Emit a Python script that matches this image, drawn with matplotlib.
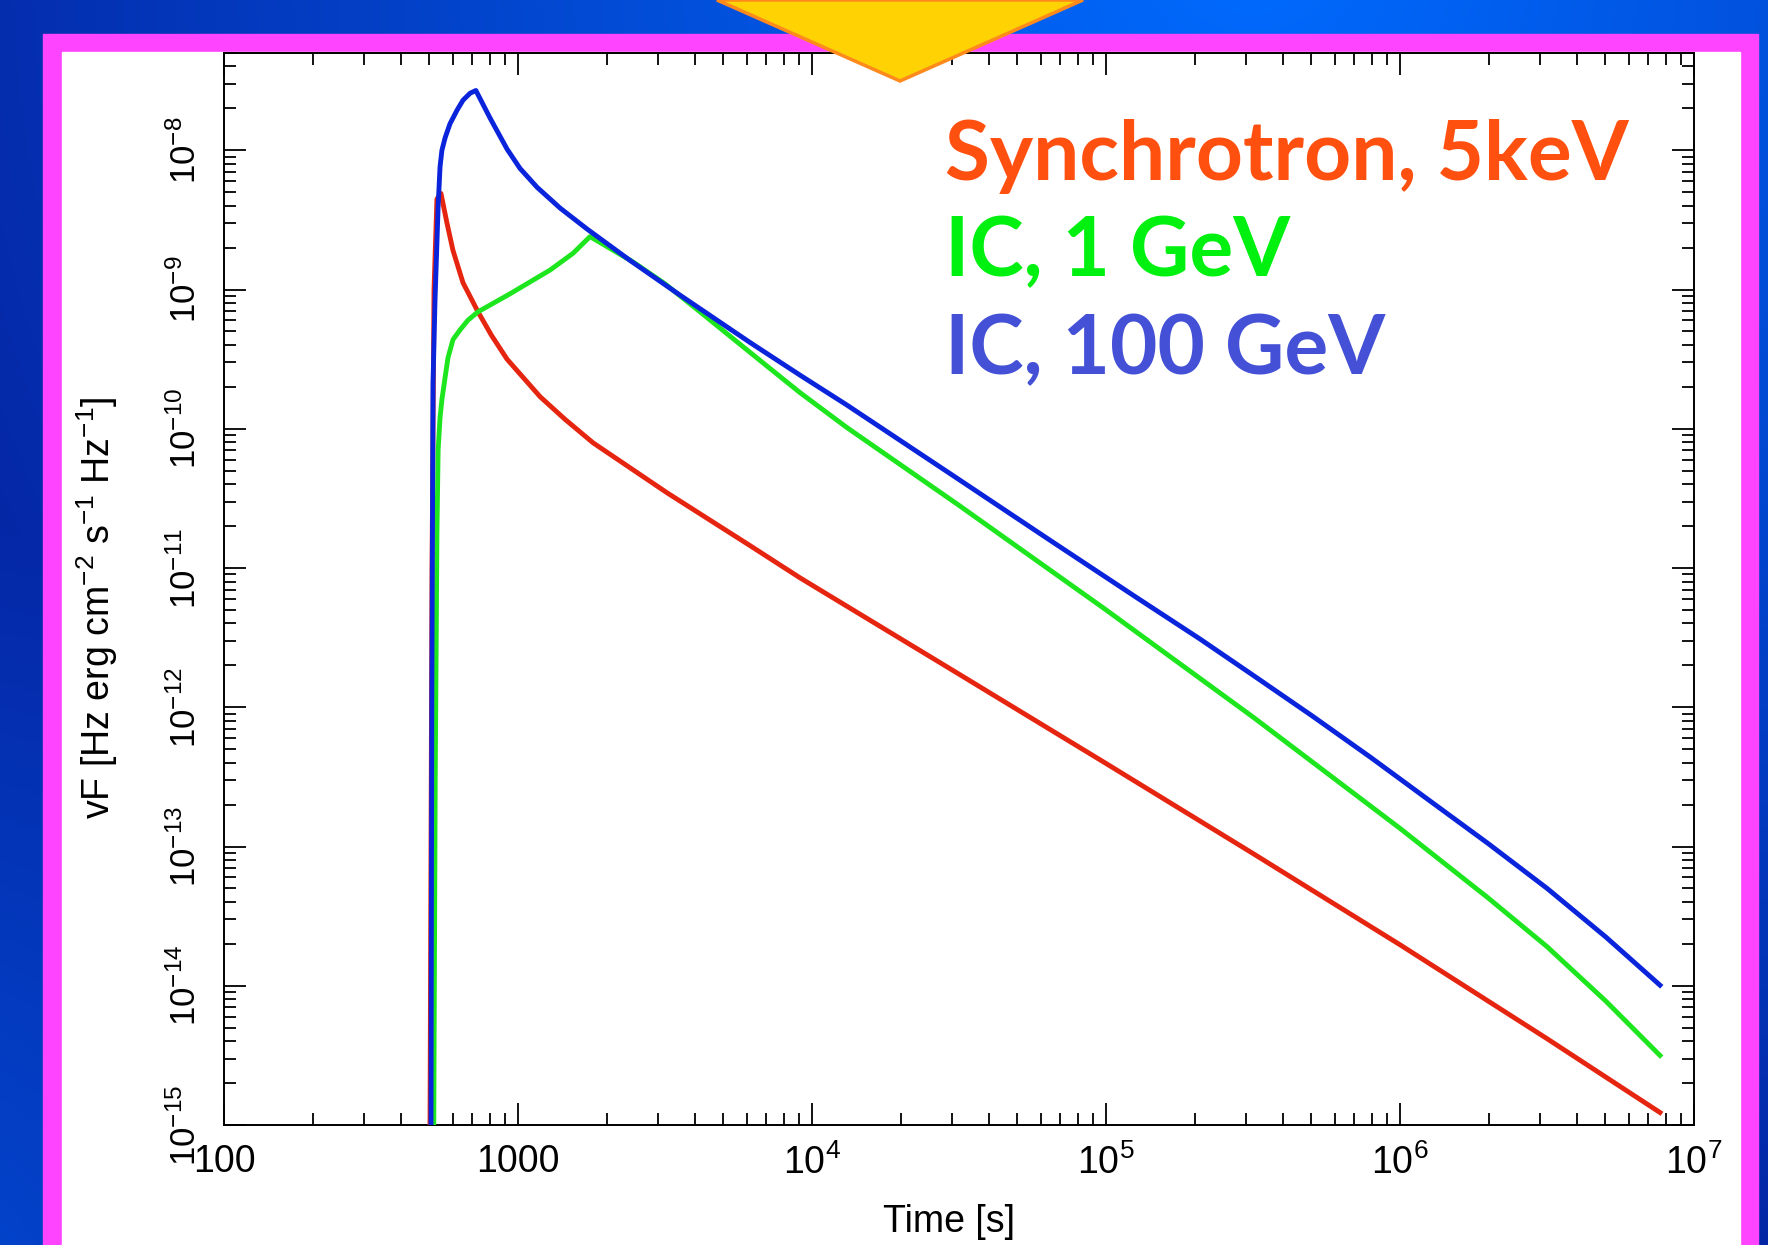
import numpy as np
import matplotlib
matplotlib.use("Agg")
import matplotlib.pyplot as plt
from matplotlib.ticker import FixedLocator, LogLocator, NullFormatter
from matplotlib.patches import Rectangle, Polygon

# light curves: time [s] and nuF [Hz erg cm-2 s-1 Hz-1]
t_sync = [502, 510, 518, 530, 547, 573, 601, 650, 731, 813, 918, 1189, 1445, 1799,
          3214, 6152, 9100, 31623, 1.0e5, 316228, 1.0e6, 3.162e6, 7.66e6]
f_sync = [1e-15, 1e-11, 1e-9, 4.47e-9, 4.9e-9, 3.02e-9, 1.91e-9, 1.12e-9, 6.92e-10,
          4.68e-10, 3.16e-10, 1.70e-10, 1.17e-10, 7.94e-11, 3.47e-11, 1.45e-11,
          8.51e-12, 1.73e-12, 3.95e-13, 8.91e-14, 1.97e-14, 4.17e-15, 1.23e-15]

t_ic1 = [517, 523, 530, 535, 543, 551, 565, 578, 601, 635, 676, 731, 940, 1285, 1538,
         1758, 2460, 3162, 4159, 5370, 7031, 9100, 13150, 31623, 1.0e5, 316228,
         1.0e6, 1.995e6, 3.162e6, 5.012e6, 7.66e6]
f_ic1 = [1e-15, 3.16e-13, 1.78e-11, 7.08e-11, 1.20e-10, 1.62e-10, 2.34e-10, 3.24e-10,
         4.37e-10, 5.13e-10, 6.03e-10, 6.92e-10, 9.33e-10, 1.38e-9, 1.82e-9, 2.40e-9,
         1.58e-9, 1.10e-9, 6.92e-10, 4.47e-10, 2.82e-10, 1.82e-10, 1.02e-10, 2.82e-11,
         5.01e-12, 8.51e-13, 1.35e-13, 4.27e-14, 1.91e-14, 7.76e-15, 3.16e-15]

t_ic100 = [506, 509, 514, 522, 535, 543, 551, 565, 587, 621, 650, 687, 719, 804, 918,
           1016, 1161, 1390, 1718, 2404, 3556, 6152, 9100, 13150, 31623, 64600, 125893,
           208930, 316228, 501187, 794328, 1.259e6, 1.995e6, 3.162e6, 5.012e6, 7.66e6]
f_ic100 = [1e-15, 1e-12, 2.14e-10, 8.3e-10, 3.98e-9, 7.59e-9, 1.0e-8, 1.23e-8, 1.55e-8,
           1.95e-8, 2.29e-8, 2.57e-8, 2.69e-8, 1.70e-8, 1.02e-8, 7.41e-9, 5.43e-9,
           3.85e-9, 2.72e-9, 1.62e-9, 9.12e-10, 4.17e-10, 2.43e-10, 1.48e-10, 4.32e-11,
           1.58e-11, 6.22e-12, 3.09e-12, 1.70e-12, 8.71e-13, 4.37e-13, 2.14e-13,
           1.05e-13, 5.01e-14, 2.24e-14, 1.01e-14]

x_ticks = [100, 1000, 1e4, 1e5, 1e6, 1e7]
x_labels = ["100", "1000", "$10^4$", "$10^5$", "$10^6$", "$10^7$"]
y_ticks = [1e-15, 1e-14, 1e-13, 1e-12, 1e-11, 1e-10, 1e-9, 1e-8]
y_labels = ["$10^{-15}$", "$10^{-14}$", "$10^{-13}$", "$10^{-12}$",
            "$10^{-11}$", "$10^{-10}$", "$10^{-9}$", "$10^{-8}$"]

W, H = 1768, 1245
plt.rcParams['font.family'] = ['Liberation Sans', 'DejaVu Sans']
plt.rcParams['mathtext.fontset'] = 'custom'
plt.rcParams['mathtext.rm'] = 'Liberation Sans'
plt.rcParams['mathtext.it'] = 'Liberation Sans:italic'
plt.rcParams['mathtext.bf'] = 'Liberation Sans:bold'

fig = plt.figure(figsize=(W / 100, H / 100), dpi=100)

# slide background: blue gradient, magenta frame, white panel
bg = fig.add_axes([0, 0, 1, 1], zorder=-10)
yy, xx = np.mgrid[0:H:4, 0:W:4]
glow1 = 1 - np.clip(np.hypot(xx - 1250, yy + 50) / 1500, 0, 1)
glow2 = 0.55 * (1 - np.clip(np.hypot(xx + 150, yy - 1350) / 1000, 0, 1))
g = np.maximum(glow1, glow2)[..., None]
c_hi = np.array([0.0, 0.42, 1.0])
c_lo = np.array([0.02, 0.13, 0.62])
bg.imshow(c_hi * g + c_lo * (1 - g), extent=[0, W, H, 0], aspect='auto')
bg.add_patch(Rectangle((43, 34), 1758 - 43, H, color='#ff44ff'))
bg.add_patch(Rectangle((62, 52), 1740 - 62, H, color='white'))
bg.set_xlim(0, W)
bg.set_ylim(H, 0)
bg.axis('off')

ax = fig.add_axes([224 / W, 1 - 1125 / H, (1694 - 224) / W, (1125 - 53) / H])
ax.set_facecolor('white')
ax.plot(t_sync, f_sync, color='#e62510', lw=3.5, zorder=3)
ax.plot(t_ic1, f_ic1, color='#1ee61e', lw=3.5, zorder=4)
ax.plot(t_ic100, f_ic100, color='#0a24dc', lw=3.5, zorder=5)

ax.set_xscale('log')
ax.set_yscale('log')
ax.set_xlim(100, 1e7)
ax.set_ylim(1e-15, 5e-8)

ax.xaxis.set_major_locator(FixedLocator(x_ticks))
ax.set_xticklabels(x_labels)
ax.yaxis.set_major_locator(FixedLocator(y_ticks))
ax.set_yticklabels(y_labels)
for a in (ax.xaxis, ax.yaxis):
    a.set_minor_locator(LogLocator(base=10, subs=range(2, 10), numticks=20))
    a.set_minor_formatter(NullFormatter())

ax.tick_params(which='both', direction='in', top=True, right=True, width=1.3, colors='black')
ax.tick_params(which='major', length=15.5)
ax.tick_params(which='minor', length=8.5)
ax.tick_params(axis='x', which='major', labelsize=27, pad=14)
ax.tick_params(axis='y', which='major', labelsize=25, pad=15, labelrotation=90)
for lab in ax.get_yticklabels():
    lab.set_va('center')
for s in ax.spines.values():
    s.set_linewidth(1.4)

fig.text(97 / W, 1 - 608 / H, "vF [Hz erg cm$^{-2}$ s$^{-1}$ Hz$^{-1}$]", rotation=90,
         ha='center', va='center', fontsize=27)
fig.text(949 / W, 1 - 1222 / H, "Time [s]", ha='center', va='center', fontsize=27)

# coloured curve labels
lab_font = dict(family=['Lato', 'DejaVu Sans'], weight='bold', fontsize=59, ha='left', va='baseline')
fig.text(945 / W, 1 - 180 / H, "Synchrotron, 5keV", color='#ff5010', **lab_font)
fig.text(945 / W, 1 - 276 / H, "IC, 1 GeV", color='#00f010', **lab_font)
fig.text(945 / W, 1 - 374 / H, "IC, 100 GeV", color='#4450d6', **lab_font)

# yellow arrow from the slide above
tri = [(717 / W, 1.0), (1083 / W, 1.0), (900 / W, 1 - 81 / H)]
fig.add_artist(Polygon(tri, closed=True, transform=fig.transFigure, facecolor='#ffd204',
                       edgecolor='#ff8a1c', lw=2.5, zorder=20))

fig.savefig("out.png", dpi=100)
